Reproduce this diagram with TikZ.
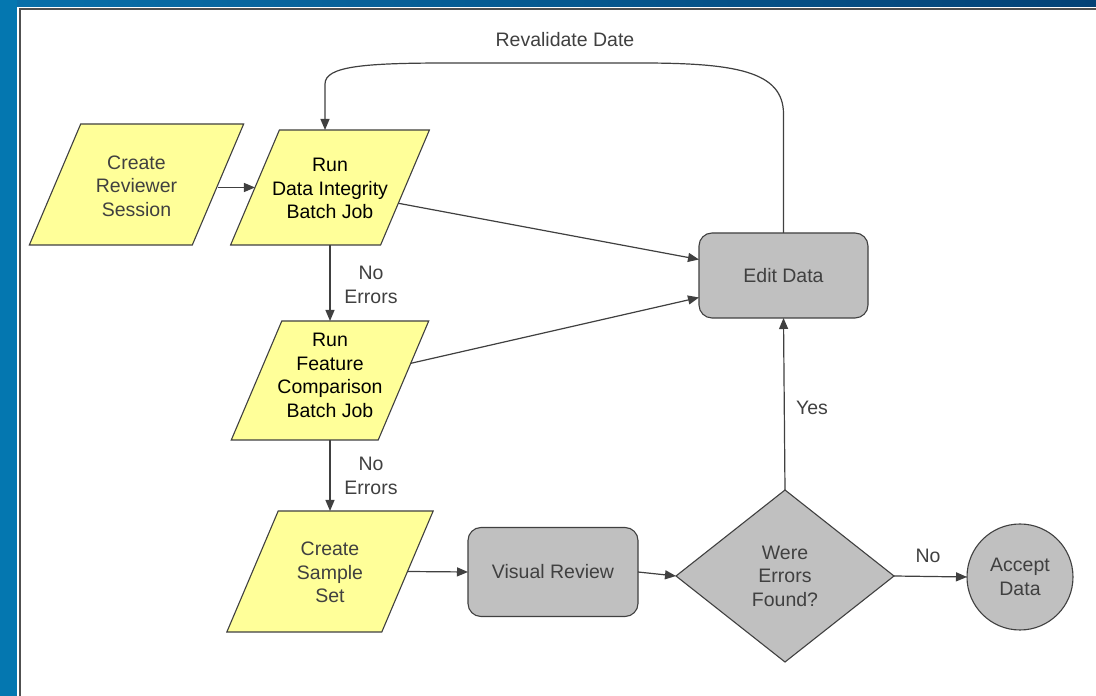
\documentclass[tikz,border=0pt]{standalone}
\usepackage{fontspec}
\setmainfont{Liberation Sans}
\usetikzlibrary{shapes.geometric,arrows.meta,calc}
\definecolor{bandblue}{RGB}{4,119,176}
\definecolor{topL}{RGB}{8,112,170}
\definecolor{topR}{RGB}{4,66,118}
\definecolor{framegray}{RGB}{80,80,80}
\definecolor{boxyellow}{RGB}{255,255,153}
\definecolor{boxgray}{RGB}{192,192,192}
\definecolor{edgegray}{RGB}{64,64,64}
\definecolor{txtgray}{RGB}{64,64,64}
\begin{document}
\begin{tikzpicture}[x=1pt,y=1pt,
  every node/.style={font=\fontsize{19.5}{23.5}\selectfont},
  para/.style={draw=edgegray, fill=boxyellow, line width=1.1pt, trapezium,
    trapezium left angle=67, trapezium right angle=113,
    minimum width=0pt, minimum height=0pt, outer sep=0pt},
  ptxt/.style={align=center, inner sep=0pt},
  proc/.style={draw=edgegray, fill=boxgray, line width=1.1pt, rectangle,
    rounded corners=13pt, outer sep=0pt, align=center, text=txtgray},
  decis/.style={draw=edgegray, fill=boxgray, line width=1.1pt, diamond,
    minimum width=218pt, minimum height=172pt, inner sep=0pt, outer sep=0pt,
    align=center, text=txtgray},
  term/.style={draw=edgegray, fill=boxgray, line width=1.1pt, circle,
    minimum size=106pt, inner sep=0pt, outer sep=0pt, align=center, text=txtgray},
  arr/.style={draw=edgegray, line width=1.2pt, -{Triangle[length=11pt,width=9pt]}},
  lbl/.style={text=txtgray, align=center}
]
\useasboundingbox (0,0) rectangle (1096,696);
% frame
\fill[white] (0,0) rectangle (1096,696);
\fill[bandblue] (0,0) rectangle (17,696);
\shade[left color=topL, right color=topR] (0,689) rectangle (1096,696);
\fill[bandblue] (0,689) rectangle (17,696);
\fill[framegray] (18.5,0) rectangle (20.5,687.5);
\fill[framegray] (18.5,685.5) rectangle (1096,687.5);

% parallelogram shapes
\node[para, inner xsep=55.8pt, inner ysep=60.5pt] (c1) at (136.5,511.5) {};
\node[para, inner xsep=50.6pt, inner ysep=57.5pt] (r1) at (330,508.5) {};
\node[para, inner xsep=48.2pt, inner ysep=59.5pt] (r2) at (330,315.5) {};
\node[para, inner xsep=51.8pt, inner ysep=60.5pt] (s) at (330,124.5) {};
% their texts
\node[ptxt, text=txtgray] (c1t) at ($(c1)+(0,-1.5)$) {Create\\Reviewer\\Session};
\node[ptxt, text=black] (r1t) at ($(r1)+(0,-1)$) {Run\\Data Integrity\\Batch Job};
\node[ptxt, text=black] (r2t) at ($(r2)+(0,5)$) {Run\\Feature\\Comparison\\Batch Job};
\node[ptxt, text=txtgray] (st) at ($(s)+(0,-1)$) {Create\\Sample\\Set};

\node[proc, minimum width=169pt, minimum height=85pt] (edit) at (783.5,420.5) {Edit Data};
\node[proc, minimum width=170pt, minimum height=89pt] (visual) at (553,124) {Visual Review};
\node[decis] (dia) at (785,120) {Were\\Errors\\Found?};
\node[term] (acc) at (1020,119) {Accept\\Data};

% labels
\node[lbl] (rv) at (565,656) {Revalidate Date};
\node[lbl] (ne1) at (371,411) {No\\Errors};
\node[lbl] (ne2) at (371,220) {No\\Errors};
\node[lbl] (yes) at (812,288) {Yes};
\node[lbl] (no) at (928,140) {No};

% connectors
\coordinate (lt) at (325,633);
\draw[arr] (c1.east |- r1.west) -- (r1.west);
\draw[arr] (r1.-13) -- ($(edit.west)+(0,16)$);
\draw[arr] (r2.12) -- ($(edit.west)+(0,-22)$);
\draw[arr] (r1.south) -- (r2.north);
\draw[arr] (r2.south) -- (s.north);
\draw[arr] (s.east) -- (visual.west);
\draw[arr] (visual.east) -- (dia.west);
\draw[arr] (dia.east) -- (acc.west);
\draw[arr] (dia.north) -- (edit.south);
\draw[arr] (edit.north) -- (783.5,582) .. controls (783.5,625) and (735,633) .. (640,633)
  -- (450,633) .. controls (365,633) and (325,630) .. (325,612) -- (r1.north -| lt);
\end{tikzpicture}
\end{document}
